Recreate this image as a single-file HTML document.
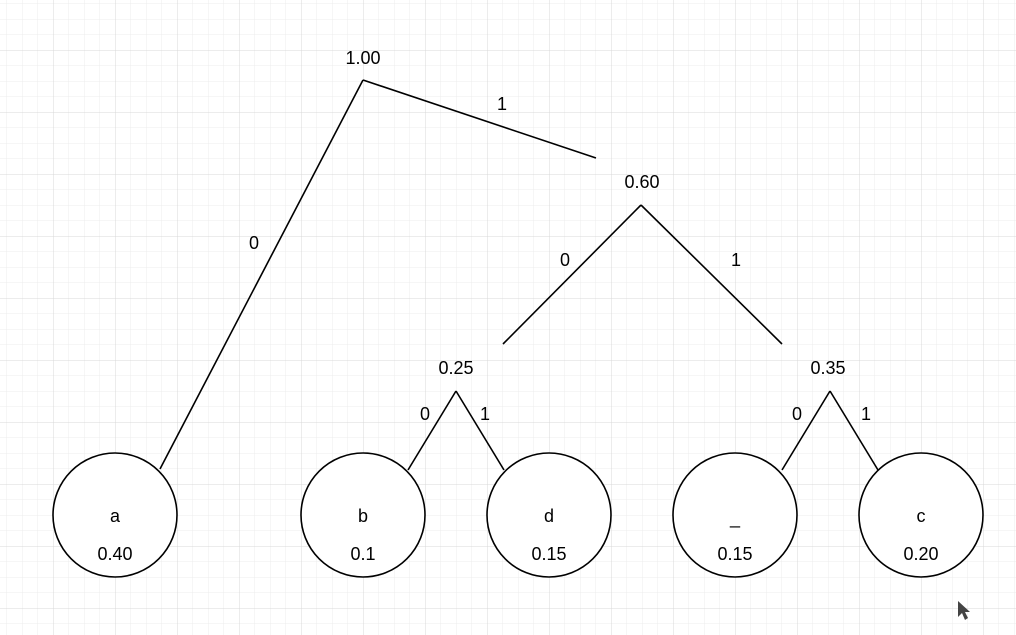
<!DOCTYPE html>
<html><head><meta charset="utf-8"><style>
html,body{margin:0;padding:0;background:#fff}
svg{display:block}
text{font-family:"Liberation Sans",sans-serif;font-size:18px;fill:#000;text-anchor:middle}
</style></head><body>
<svg width="1016" height="635" viewBox="0 0 1016 635">
<defs>
<pattern id="minor" x="-9" y="-12" width="15.5" height="15.5" patternUnits="userSpaceOnUse">
<path d="M0 0H15.5M0 0V15.5" stroke="#ececec" stroke-width="1" fill="none"/>
</pattern>
<pattern id="major" x="-9" y="-12" width="62" height="62" patternUnits="userSpaceOnUse">
<path d="M0 0H62M0 0V62" stroke="#d9d9d9" stroke-width="1" fill="none"/>
</pattern>
</defs>
<rect width="1016" height="635" fill="url(#minor)"/>
<rect width="1016" height="635" fill="url(#major)"/>
<g stroke="#000" stroke-width="1.6" fill="none">
<line x1="363" y1="80" x2="160" y2="469"/>
<line x1="363" y1="80" x2="596" y2="158"/>
<line x1="641" y1="205" x2="503" y2="344"/>
<line x1="641" y1="205" x2="782" y2="344"/>
<line x1="456" y1="391" x2="408" y2="470"/>
<line x1="456" y1="391" x2="504" y2="470"/>
<line x1="830" y1="391" x2="782" y2="470"/>
<line x1="830" y1="391" x2="878" y2="470"/>
</g>
<g stroke="#000" stroke-width="1.6" fill="#fff">
<circle cx="115" cy="515" r="62"/>
<circle cx="363" cy="515" r="62"/>
<circle cx="549" cy="515" r="62"/>
<circle cx="735" cy="515" r="62"/>
<circle cx="921" cy="515" r="62"/>
</g>
<g>
<text x="363" y="64">1.00</text>
<text x="502" y="110">1</text>
<text x="254" y="249">0</text>
<text x="642" y="188">0.60</text>
<text x="565" y="266">0</text>
<text x="736" y="266">1</text>
<text x="456" y="374">0.25</text>
<text x="425" y="420">0</text>
<text x="485" y="420">1</text>
<text x="828" y="374">0.35</text>
<text x="797" y="420">0</text>
<text x="866" y="420">1</text>
<text x="115" y="522">a</text>
<text x="115" y="560">0.40</text>
<text x="363" y="522">b</text>
<text x="363" y="560">0.1</text>
<text x="549" y="522">d</text>
<text x="549" y="560">0.15</text>
<text x="735" y="524">_</text>
<text x="735" y="560">0.15</text>
<text x="921" y="522">c</text>
<text x="921" y="560">0.20</text>
</g>
<path d="M958 601 L958 617 L962 613 L965 620 L968 618 L965 612 L970 612 Z" fill="#444"/>
</svg>
</body></html>
